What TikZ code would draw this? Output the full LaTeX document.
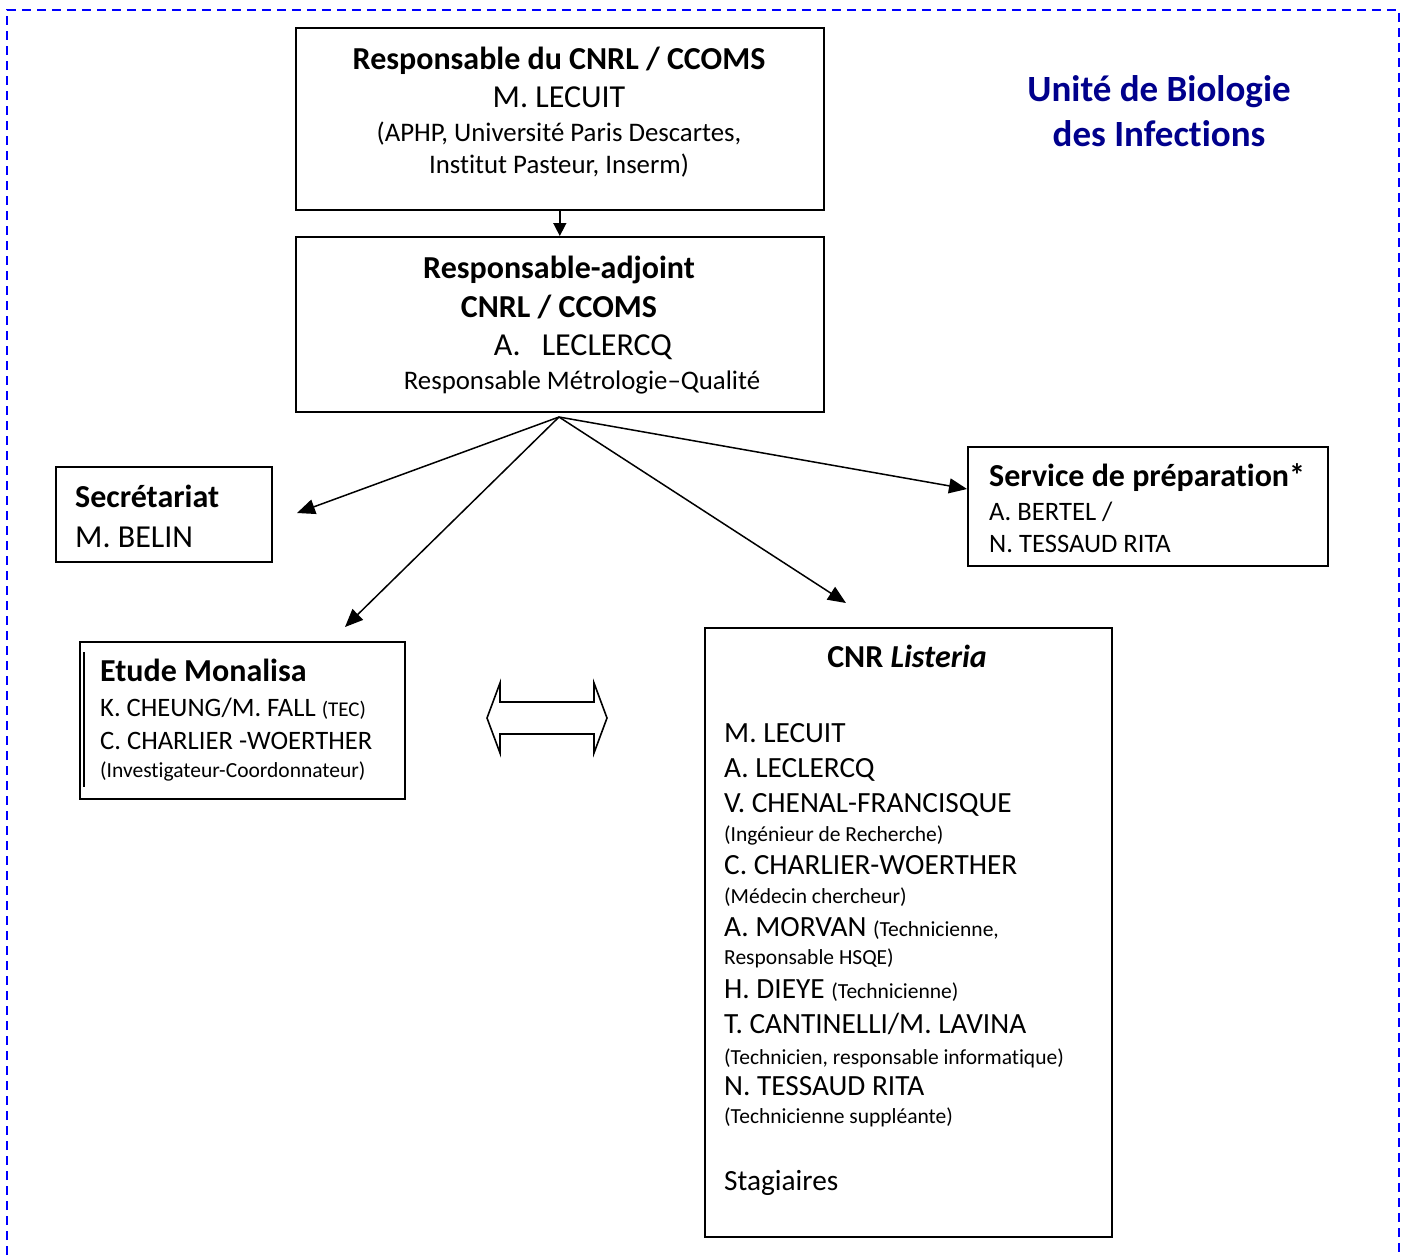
\documentclass[tikz,border=0pt]{standalone}
\usepackage{fontspec}
\setmainfont{Carlito}[Ligatures={TeX,CommonOff}]
\usetikzlibrary{arrows.meta}
\definecolor{navytitle}{RGB}{0,0,140}
\definecolor{dashblue}{RGB}{0,0,255}
\newcommand\szHead{\fontsize{32}{38}\selectfont}
\newcommand\szBig{\fontsize{29.3}{35}\selectfont}
\newcommand\szTop{\fontsize{32}{38}\selectfont}
\newcommand\szTopSmall{\fontsize{26.8}{32}\selectfont}
\newcommand\szMid{\fontsize{26.6}{32}\selectfont}
\newcommand\szSmall{\fontsize{21.5}{26}\selectfont}
\newcommand\szTiny{\fontsize{21}{25}\selectfont}
\newcommand\szTitle{\fontsize{37}{44}\selectfont}
\begin{document}
\begin{tikzpicture}[x=1pt,y=-1pt,
  box/.style={draw, line width=1.6pt, inner sep=0pt, anchor=north west},
  txt/.style={inner sep=0pt, anchor=base west},
  ctxt/.style={inner sep=0pt, anchor=base},
  arr/.style={line width=1.5pt, -{Triangle[length=18pt,width=15pt]}},
  arrs/.style={line width=1.5pt, -{Triangle[length=13pt,width=13pt]}}]
\useasboundingbox (0,0) rectangle (1407,1255);
% dashed frame
\draw[dashblue, line width=2pt, dash pattern=on 9pt off 6pt] (7,1255) -- (7,10) -- (1399,10) -- (1399,1255);
% title
\node[ctxt, text=navytitle, font=\bfseries\szTitle] (title1) at (1159,101) {Unité de Biologie};
\node[ctxt, text=navytitle, font=\bfseries\szTitle] (title2) at (1159,146) {des Infections};
% boxes
\node[box, minimum width=528pt, minimum height=182pt] (top) at (295,27) {};
\node[box, minimum width=528pt, minimum height=175pt] (adj) at (295,236) {};
\node[box, minimum width=216pt, minimum height=95pt] (sec) at (55,466) {};
\node[box, minimum width=360pt, minimum height=119pt] (svc) at (967,446) {};
\node[box, minimum width=325pt, minimum height=157pt] (mona) at (79,641) {};
\node[box, minimum width=407pt, minimum height=609pt] (cnr) at (704,627) {};
% top box text
\node[ctxt, font=\bfseries\szHead] (t1) at (559,70) {Responsable du CNRL / CCOMS};
\node[ctxt, font=\szTop] (t2) at (559,107) {M. LECUIT};
\node[ctxt, font=\szTopSmall] (t3) at (559,141) {(APHP, Université Paris Descartes,};
\node[ctxt, font=\szTopSmall] (t4) at (559,173) {Institut Pasteur, Inserm)};
% adjoint text
\node[ctxt, font=\bfseries\szHead] (a1) at (559,278) {Responsable-adjoint};
\node[ctxt, font=\bfseries\szHead] (a2) at (559,317) {CNRL / CCOMS};
\node[ctxt, font=\szTop] (a3) at (583,355) {A.\hspace{21pt}LECLERCQ};
\node[ctxt, font=\szTopSmall] (a4) at (582,389) {Responsable Métrologie–Qualité};
% secretariat
\node[txt, font=\bfseries\szHead] (s1) at (75,507) {Secrétariat};
\node[txt, font=\szTop] (s2) at (75,547) {M. BELIN};
% service
\node[txt, font=\bfseries\szHead] (v1) at (989,486) {Service de préparation*};
\node[txt, font=\szMid] (v2) at (989,520) {A. BERTEL /};
\node[txt, font=\szMid] (v3) at (989,552) {N. TESSAUD RITA};
% monalisa
\draw[line width=1.6pt] (84,652) -- (84,787);
\node[txt, font=\bfseries\szHead] (m1) at (100,681) {Etude Monalisa};
\node[txt, font=\szMid] (m2) at (100,716) {K. CHEUNG/M. FALL {\szTiny(TEC)}};
\node[txt, font=\szMid] (m3) at (100,749) {C. CHARLIER -WOERTHER};
\node[txt, font=\szSmall] (m4) at (100,777) {(Investigateur-Coordonnateur)};
% CNR Listeria
\node[ctxt, font=\bfseries\szHead] (c0) at (907,667) {CNR \textit{Listeria}};
\node[txt, font=\szBig] (c1) at (724,742) {M. LECUIT};
\node[txt, font=\szBig] (c2) at (724,777) {A. LECLERCQ};
\node[txt, font=\szBig] (c3) at (724,812) {V. CHENAL-FRANCISQUE};
\node[txt, font=\szSmall] (c4) at (724,841) {(Ingénieur de Recherche)};
\node[txt, font=\szBig] (c5) at (724,874) {C. CHARLIER-WOERTHER};
\node[txt, font=\szSmall] (c6) at (724,903) {(Médecin chercheur)};
\node[txt, font=\szBig] (c7) at (724,936) {A. MORVAN {\szSmall(Technicienne,}};
\node[txt, font=\szSmall] (c8) at (724,964) {Responsable HSQE)};
\node[txt, font=\szBig] (c9) at (724,998) {H. DIEYE {\szSmall(Technicienne)}};
\node[txt, font=\szBig] (c10) at (724,1033) {T. CANTINELLI/M. LAVINA};
\node[txt, font=\szSmall] (c11) at (724,1064) {(Technicien, responsable informatique)};
\node[txt, font=\szBig] (c12) at (724,1095) {N. TESSAUD RITA};
\node[txt, font=\szSmall] (c13) at (724,1123) {(Technicienne suppléante)};
\node[txt, font=\szBig] (c14) at (724,1190) {Stagiaires};
% connectors
\draw[arrs] (top.south) -- (adj.north);
\coordinate (fan) at (559,417);
\coordinate (secin) at (297,513);
\coordinate (monain) at (345,627);
\coordinate (cnrin) at (846,603);
\coordinate (svcin) at (967,489);
\draw[arr] (fan) -- (secin);
\draw[arr] (fan) -- (monain);
\draw[arr] (fan) -- (cnrin);
\draw[arr] (fan) -- (svcin);
% double block arrow
\draw[line width=1.6pt, line join=miter] (487,718) -- (500,683) -- (500,702) -- (594,702) -- (594,683) -- (607,718) -- (594,753) -- (594,734) -- (500,734) -- (500,753) -- cycle;
\end{tikzpicture}
\end{document}
